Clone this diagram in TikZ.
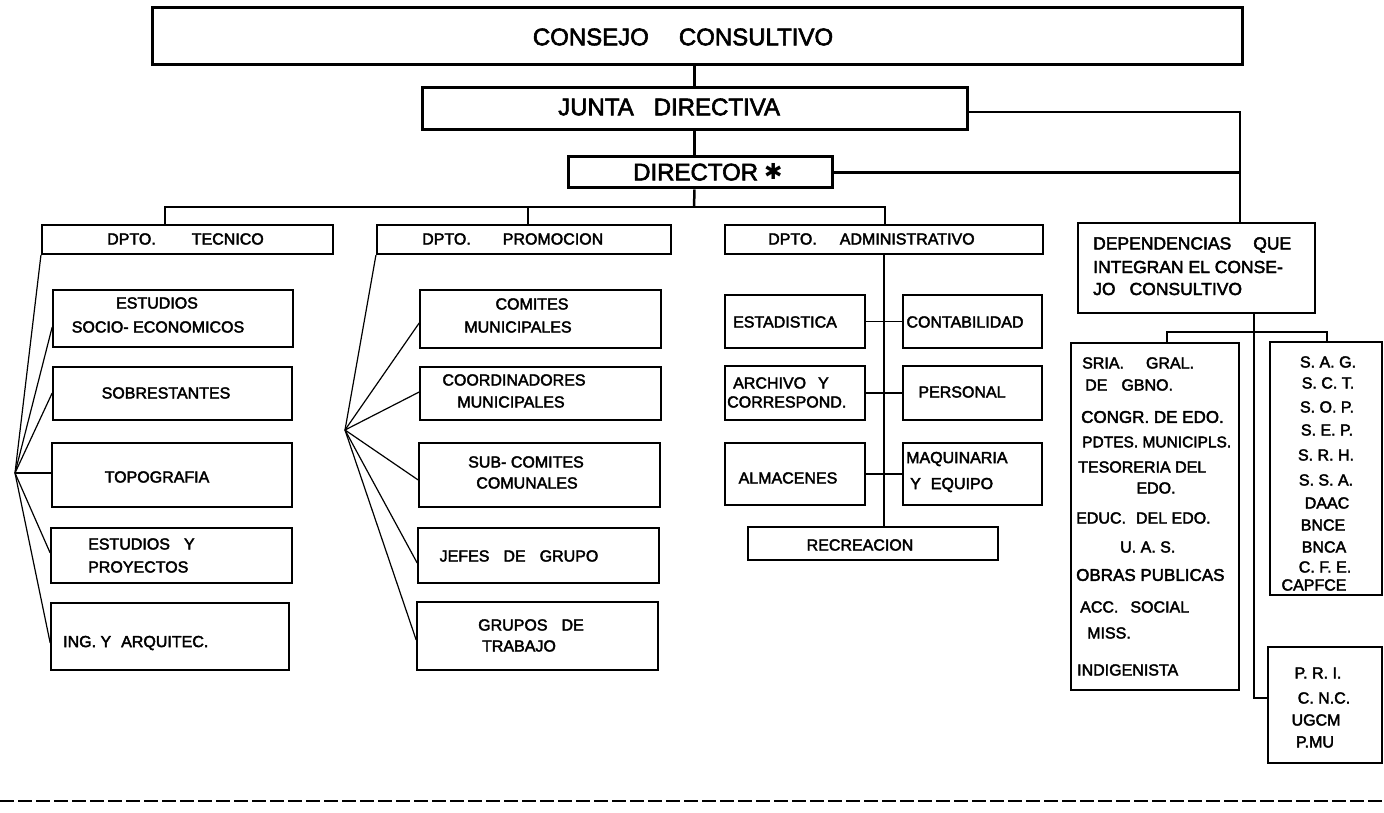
\documentclass[tikz,border=0pt]{standalone}
\usepackage{fontspec}
\setmainfont{Liberation Sans}[FakeBold=2.5]
\newfontfamily\symfont{DejaVu Sans}
\usetikzlibrary{fit}
\begin{document}
\begin{tikzpicture}[x=1pt,y=-1pt,
  bx/.style={draw, line width=1.6pt, inner sep=0pt},
  bxm/.style={draw, line width=2.1pt, inner sep=0pt},
  bxh/.style={draw, line width=3pt, inner sep=0pt},
  txt/.style={inner sep=0pt, font=\fontsize{16}{18}\selectfont},
  txs/.style={inner sep=0pt, font=\fontsize{15.5}{18}\selectfont},
  txl/.style={inner sep=0pt, font=\fontsize{17}{19}\selectfont},
  tdep/.style={inner sep=0pt, font=\fontsize{17.5}{20}\selectfont},
  tbig/.style={inner sep=0pt, font=\fontsize{24}{28}\selectfont},
  lnthick/.style={line width=2.5pt},
  lnmid/.style={line width=1.9pt},
  lnthin/.style={line width=1.5pt},
  lnfan/.style={line width=1.2pt}]
\fill[white] (0,0) rectangle (1384,813);
\useasboundingbox (0,0) rectangle (1384,813);

% ---- top levels
\node[bxh, fit={(152,8)(1242,65)}] (cc) {};
\node[tbig] (cct) at (683,37) {CONSEJO\hspace{30pt}CONSULTIVO};
\node[bxh, fit={(422,88)(967,130)}] (jd) {};
\node[tbig, anchor=west] (jdt) at (558,107) {JUNTA\hspace{20pt}DIRECTIVA};
\node[bxh, fit={(568,157)(832,188)}] (dr) {};
\node[tbig, anchor=west] (drt) at (633,172) {DIRECTOR\hspace{6pt}\raisebox{1pt}{\symfont\fontsize{22}{22}\selectfont ✱}};

% ---- departments
\node[bxm, fit={(42,225)(333,254)}] (tec) {};
\node[txt, anchor=west] (tect) at (107,239) {DPTO.\hspace{36pt}TECNICO};
\node[bxm, fit={(377,225)(671,254)}] (pro) {};
\node[txt, anchor=west] (prot) at (422,239) {DPTO.\hspace{32pt}PROMOCION};
\node[bxm, fit={(725,225)(1043,254)}] (adm) {};
\node[txt, anchor=west] (admt) at (768,239) {DPTO.\hspace{23pt}ADMINISTRATIVO};
\node[bxm, fit={(1078,223)(1315,313)}] (dep) {};
\node[tdep, anchor=west] (dep1) at (1093,245) {DEPENDENCIAS\hspace{22pt}QUE};
\node[tdep, anchor=west] (dep2) at (1093,267) {INTEGRAN EL CONSE-};
\node[tdep, anchor=west] (dep3) at (1093,289) {JO\hspace{14pt}CONSULTIVO};

% ---- main connectors
\draw[lnthick] (jd.north) -- (jd.north |- cc.south);
\draw[lnthick] (jd.south) -- (jd.south |- dr.north);
\coordinate (bar) at (694,207);
\draw[lnthick] (jd.south |- dr.south) -- (bar);
\coordinate (dtec) at (165,207);
\coordinate (dpro) at (528,207);
\coordinate (dadm) at (885,207);
\draw[lnthick] (dtec |- tec.north) -- (dtec) -- (dadm) -- (dadm |- adm.north);
\draw[lnthick] (dpro) -- (dpro |- pro.north);
\coordinate (rj) at (1240,112);
\draw[lnthick] (jd.east |- rj) -- (rj) -- (rj |- dep.north);
\draw[lnthick] (dr.east) -- (dr.east -| rj);

% ---- tecnico
\node[bx, fit={(53,290)(293,347)}] (b1) {};
\node[txt] (b1a) at (157,303) {ESTUDIOS};
\node[txt] (b1b) at (158,327) {SOCIO- ECONOMICOS};
\node[bx, fit={(53,367)(292,420)}] (b2) {};
\node[txt] (b2a) at (166,393) {SOBRESTANTES};
\node[bx, fit={(52,443)(292,507)}] (b3) {};
\node[txt] (b3a) at (157,477) {TOPOGRAFIA};
\node[bx, fit={(51,528)(292,583)}] (b4) {};
\node[txt, anchor=west] (b4a) at (88,544) {ESTUDIOS\hspace{14pt}Y};
\node[txt, anchor=west] (b4b) at (88,567) {PROYECTOS};
\node[bx, fit={(51,603)(289,670)}] (b5) {};
\node[txt, anchor=west] (b5a) at (63,643) {ING.\ Y\hspace{10pt}ARQUITEC.};
\coordinate (f1) at (15,473);
\draw[lnfan] (tec.south west) -- (f1);
\foreach \n/\yy in {b1/327,b2/393,b3/473,b4/553,b5/643}
  \draw[lnfan] (f1) -- (\n.west |- 0,\yy);

% ---- promocion
\node[bx, fit={(420,290)(661,348)}] (p1) {};
\node[txt] (p1a) at (532,304) {COMITES};
\node[txt] (p1b) at (518,327) {MUNICIPALES};
\node[bx, fit={(420,367)(661,420)}] (p2) {};
\node[txt] (p2a) at (514,380) {COORDINADORES};
\node[txt] (p2b) at (511,402) {MUNICIPALES};
\node[bx, fit={(419,443)(660,507)}] (p3) {};
\node[txt] (p3a) at (526,462) {SUB- COMITES};
\node[txt] (p3b) at (527,483) {COMUNALES};
\node[bx, fit={(418,528)(659,583)}] (p4) {};
\node[txt] (p4a) at (519,556) {JEFES\hspace{14pt}DE\hspace{14pt}GRUPO};
\node[bx, fit={(417,602)(658,670)}] (p5) {};
\node[txt] (p5a) at (531,625) {GRUPOS\hspace{14pt}DE};
\node[txt] (p5b) at (519,646) {TRABAJO};
\coordinate (f2) at (345,430);
\draw[lnfan] (pro.south west) -- (f2);
\foreach \n/\yy in {p1/323,p2/392,p3/480,p4/563,p5/640}
  \draw[lnfan] (f2) -- (\n.west |- 0,\yy);

% ---- administrativo
\node[bx, fit={(725,295)(865,348)}] (est) {};
\node[txt] (esta) at (785,322) {ESTADISTICA};
\node[bx, fit={(903,295)(1042,348)}] (cont) {};
\node[txt] (conta) at (965,322) {CONTABILIDAD};
\node[bx, fit={(725,366)(865,420)}] (arch) {};
\node[txt, anchor=west] (archa) at (733,383) {ARCHIVO\hspace{12pt}Y};
\node[txt, anchor=west] (archb) at (727,402) {CORRESPOND.};
\node[bx, fit={(903,366)(1042,420)}] (pers) {};
\node[txt] (persa) at (962,392) {PERSONAL};
\node[bx, fit={(725,443)(865,505)}] (alm) {};
\node[txt] (alma) at (788,478) {ALMACENES};
\node[bx, fit={(903,443)(1042,505)}] (maq) {};
\node[txt, anchor=west] (maqa) at (906,459) {MAQUINARIA};
\node[txt, anchor=west] (maqb) at (910,485) {Y\hspace{10pt}EQUIPO};
\node[bx, fit={(748,527)(998,560)}] (rec) {};
\node[txt] (reca) at (860,545) {RECREACION};
\draw[lnmid] (adm.south) -- (adm.south |- rec.north);
\draw[lnthin] (est.east) -- (cont.west);
\draw[lnthin] (arch.east) -- (pers.west);
\draw[lnthin] (alm.east) -- (maq.west);

% ---- dependencias
\node[bx, fit={(1071,343)(1239,690)}] (sria) {};
\node[txt, anchor=west] (s1) at (1082,363) {SRIA.\hspace{22pt}GRAL.};
\node[txt, anchor=west] (s2) at (1085,385) {DE\hspace{14pt}GBNO.};
\node[txl, anchor=west] (s3) at (1081,417) {CONGR.\ DE\ EDO.};
\node[txs, anchor=west] (s4) at (1082,442) {PDTES.\ MUNICIPLS.};
\node[txt, anchor=west] (s5) at (1078,467) {TESORERIA DEL};
\node[txt] (s6) at (1156,488) {EDO.};
\node[txt, anchor=west] (s7) at (1076,518) {EDUC.\hspace{10pt}DEL EDO.};
\node[txt, anchor=west] (s8) at (1120,547) {U.\ A.\ S.};
\node[txl, anchor=west] (s9) at (1076,575) {OBRAS PUBLICAS};
\node[txt, anchor=west] (s10) at (1080,607) {ACC.\hspace{12pt}SOCIAL};
\node[txt, anchor=west] (s11) at (1087,633) {MISS.};
\node[txt, anchor=west] (s12) at (1077,670) {INDIGENISTA};

\node[bx, fit={(1270,342)(1382,595)}] (sag) {};
\node[txt] (g1) at (1328,362) {S. A. G.};
\node[txt] (g2) at (1328,383) {S. C. T.};
\node[txt] (g3) at (1327,407) {S. O. P.};
\node[txt] (g4) at (1327,430) {S. E. P.};
\node[txt] (g5) at (1326,455) {S. R. H.};
\node[txt] (g6) at (1326,480) {S. S. A.};
\node[txt] (g7) at (1327,503) {DAAC};
\node[txt] (g8) at (1323,525) {BNCE};
\node[txt] (g9) at (1324,547) {BNCA};
\node[txt] (g10) at (1325,567) {C. F. E.};
\node[txt] (g11) at (1314,585) {CAPFCE};

\node[bx, fit={(1268,647)(1382,763)}] (pri) {};
\node[txt] (r1) at (1318,673) {P. R. I.};
\node[txt] (r2) at (1324,698) {C. N.C.};
\node[txt] (r3) at (1316,720) {UGCM};
\node[txt] (r4) at (1315,742) {P.MU};

\coordinate (dv) at (1254,698);
\draw[lnmid] (dv |- dep.south) -- (dv) -- (dv -| pri.west);
\coordinate (sb1) at (1167,332);
\coordinate (sb2) at (1327,332);
\draw[lnmid] (sb1 |- sria.north) -- (sb1) -- (sb2) -- (sb2 |- sag.north);

% ---- page edge
\draw[line width=2pt, dash pattern=on 14pt off 4pt] (0,801) -- (1384,801);
\end{tikzpicture}
\end{document}
